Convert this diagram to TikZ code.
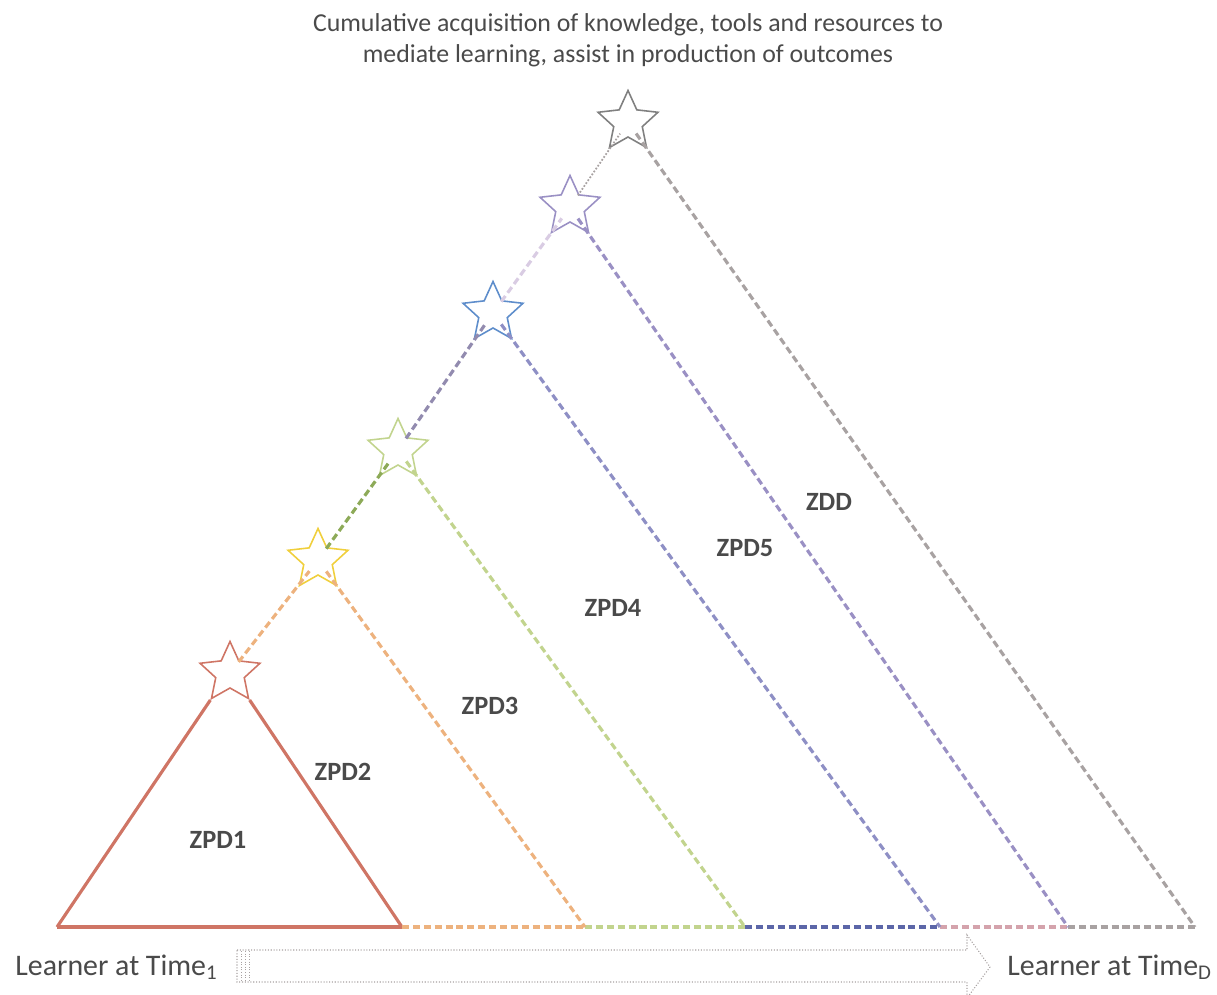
\documentclass[tikz,border=0pt]{standalone}
\usepackage{fontspec}
\setmainfont{Carlito}
\usetikzlibrary{shapes.geometric, positioning}
\definecolor{zpdred}{HTML}{CF7565}
\definecolor{zpdorange}{HTML}{EDB27E}
\definecolor{zpdyellow}{HTML}{F0CF3C}
\definecolor{zpdlime}{HTML}{C2D48E}
\definecolor{zpdgreen}{HTML}{8DAA58}
\definecolor{zpdblue}{HTML}{5E8DCB}
\definecolor{zpdnavy}{HTML}{5C66A8}
\definecolor{zpdviolet}{HTML}{9A90C4}
\definecolor{zpdlilac}{HTML}{D9CCE3}
\definecolor{zpdpink}{HTML}{D4A3AC}
\definecolor{zpdgrey}{HTML}{A8A2A2}
\definecolor{zpdtext}{HTML}{4A4A4A}
\tikzset{
  zstar/.style={star, star points=5, star point ratio=2.1, minimum size=1.26cm,
                inner sep=0pt, draw=#1, line width=0.9pt},
  zline/.style={line width=1.8pt, dash pattern=on 4pt off 2.2pt, draw=#1},
  zlbl/.style={font=\fontsize{15}{17}\selectfont\bfseries, text=zpdtext},
  learner/.style={anchor=west, inner sep=0pt, font=\fontsize{17}{20}\selectfont, text=zpdtext},
}
\begin{document}
\begin{tikzpicture}[x=0.02cm, y=-0.02cm]
  \useasboundingbox (0,0) rectangle (1217,994);
  % baseline points
  \coordinate (b0) at (57,927);
  \coordinate (b1) at (402,927);
  \coordinate (b2) at (585,927);
  \coordinate (b3) at (745,927);
  \coordinate (b4) at (940,927);
  \coordinate (b5) at (1068,927);
  \coordinate (b6) at (1195,927);
  % stars
  \node[zstar=zpdred]    (s1) at (230,673) {};
  \node[zstar=zpdyellow] (s2) at (318,560) {};
  \node[zstar=zpdlime]   (s3) at (398,450) {};
  \node[zstar=zpdblue]   (s4) at (493,313) {};
  \node[zstar=zpdviolet] (s5) at (570,207) {};
  \node[zstar=gray]      (s6) at (628,122) {};
  % ZPD1 triangle
  \draw[zpdred, line width=1.8pt] (b0) -- (s1.outer point 3);
  \draw[zpdred, line width=1.8pt] (s1.outer point 4) -- (b1);
  \draw[zpdred, line width=2.8pt] (b0) -- (b1);
  % baseline
  \draw[zline=zpdorange] (b1) -- (b2);
  \draw[zline=zpdlime] (b2) -- (b3);
  \draw[zline=zpdnavy] (b3) -- (b4);
  \draw[zline=zpdpink] (b4) -- (b5);
  \draw[zline=zpdgrey] (b5) -- (b6);
  % right edges
  \draw[zline=zpdorange, shorten <=8pt] (s2.center) -- (b2);
  \draw[zline=zpdlime, shorten <=8pt] (s3.center) -- (b3);
  \draw[zline=zpdviolet!80!zpdblue, shorten <=8pt] (s4.center) -- (b4);
  \draw[zline=zpdviolet, shorten <=8pt] (s5.center) -- (b5);
  \draw[zline=zpdgrey, shorten <=8pt] (s6.center) -- (b6);
  % left edges between stars
  \draw[zline=zpdorange, shorten <=8pt, shorten >=8pt] (s1.center) -- (s2.center);
  \draw[zline=zpdgreen, shorten <=8pt, shorten >=8pt] (s2.center) -- (s3.center);
  \draw[zline=zpdviolet!70!gray, shorten <=8pt, shorten >=8pt] (s3.center) -- (s4.center);
  \draw[zline=zpdlilac, shorten <=8pt, shorten >=8pt] (s4.center) -- (s5.center);
  \draw[zpdgrey, line width=1pt, densely dotted, shorten <=8pt, shorten >=8pt] (s5.center) -- (s6.center);
  % labels
  \node[zlbl] (l1) at (218,840) {ZPD1};
  \node[zlbl] (l2) at (343,772) {ZPD2};
  \node[zlbl] (l3) at (490,706) {ZPD3};
  \node[zlbl] (l4) at (613,608) {ZPD4};
  \node[zlbl] (l5) at (745,548) {ZPD5};
  \node[zlbl] (l6) at (829,502) {ZDD};
  \node[align=center, text=zpdtext, font=\fontsize{14.7}{17.6}\selectfont] (title) at (628,40)
    {Cumulative acquisition of knowledge, tools and resources to\\ mediate learning, assist in production of outcomes};
  % time arrow
  \node[learner] (t1) at (15,967) {Learner at Time\textsubscript{1}};
  \node[learner] (tD) at (1007,967) {Learner at Time\textsubscript{D}};
  \draw[zpdgrey, line width=0.6pt, densely dotted]
    (237,950) -- (967,950) -- (967,935) -- (990,967) -- (967,998) -- (967,982) -- (237,982) -- cycle;
  \foreach \x in {241,245,249}
    \draw[zpdgrey, line width=0.5pt, densely dotted] (\x,951) -- (\x,981);
\end{tikzpicture}
\end{document}
